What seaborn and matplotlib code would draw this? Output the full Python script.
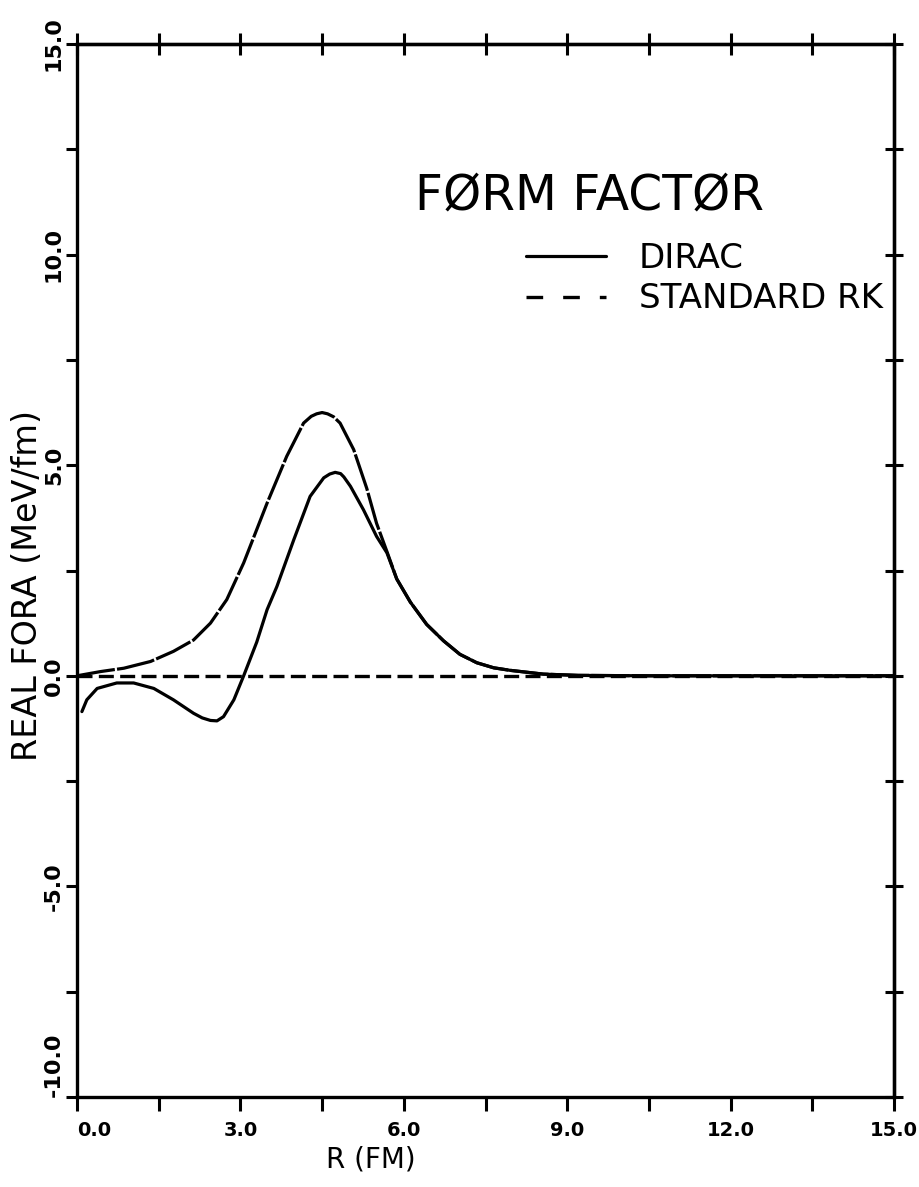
import matplotlib
matplotlib.use("Agg")
import matplotlib.pyplot as plt
import seaborn as sns
import pandas as pd
from matplotlib.lines import Line2D

# ---------------- data ----------------
r_dirac = [0.09, 0.18, 0.37, 0.73, 1.04, 1.41, 1.77, 2.14, 2.30, 2.45, 2.57,
           2.69, 2.88, 3.06, 3.30, 3.49, 3.67, 3.98, 4.28, 4.53, 4.64, 4.74,
           4.84, 4.90, 5.02, 5.26, 5.50, 5.69, 5.87, 6.12, 6.42, 6.73, 7.03,
           7.34, 7.65, 7.95, 8.56, 9.20, 10.5, 12.0, 13.5, 15.0]
dirac = [-0.85, -0.57, -0.30, -0.17, -0.17, -0.30, -0.57, -0.89, -1.00, -1.06,
         -1.07, -0.97, -0.57, 0.00, 0.80, 1.57, 2.12, 3.23, 4.26, 4.70, 4.79,
         4.83, 4.80, 4.72, 4.50, 3.94, 3.31, 2.92, 2.30, 1.75, 1.22, 0.83,
         0.51, 0.31, 0.19, 0.13, 0.04, 0.01, 0.0, 0.0, 0.0, 0.0]

r_rk = [0.0, 0.43, 0.86, 1.35, 1.77, 2.14, 2.45, 2.75, 3.06, 3.49, 3.85, 4.16,
        4.30, 4.40, 4.50, 4.60, 4.71, 4.83, 5.08, 5.32, 5.50, 5.69, 5.87, 6.12,
        6.42, 6.73, 7.03, 7.34, 7.65, 7.95, 8.56, 9.20, 10.5, 12.0, 13.5, 15.0]
rk = [0.00, 0.10, 0.18, 0.34, 0.58, 0.85, 1.25, 1.81, 2.68, 4.10, 5.21, 6.00,
      6.16, 6.22, 6.25, 6.22, 6.15, 6.00, 5.37, 4.45, 3.62, 2.95, 2.30, 1.75,
      1.22, 0.83, 0.51, 0.31, 0.19, 0.13, 0.04, 0.01, 0.0, 0.0, 0.0, 0.0]

x_ticks = [0.0, 1.5, 3.0, 4.5, 6.0, 7.5, 9.0, 10.5, 12.0, 13.5, 15.0]
x_ticklabels = ["0.0", "", "3.0", "", "6.0", "", "9.0", "", "12.0", "", "15.0"]
y_ticks = [-10.0, -7.5, -5.0, -2.5, 0.0, 2.5, 5.0, 7.5, 10.0, 12.5, 15.0]
y_ticklabels = ["-10.0", "", "-5.0", "", "0.0", "", "5.0", "", "10.0", "", "15.0"]

title_text = "FØRM FACTØR"
legend_labels = ["DIRAC", "STANDARD RK"]
x_label = "R (FM)"
y_label = "REAL FORA (MeV/fm)"

# ---------------- style ----------------
sns.set_style("ticks")
plt.rcParams["font.family"] = ["DejaVu Sans"]
plt.rcParams["text.color"] = "black"
plt.rcParams["axes.labelcolor"] = "black"
plt.rcParams["xtick.color"] = "black"
plt.rcParams["ytick.color"] = "black"

fig = plt.figure(figsize=(9.19, 11.87), dpi=100)
ax = fig.add_axes([77 / 919, 90 / 1187, 817 / 919, 1053 / 1187])

df_d = pd.DataFrame({"R": r_dirac, "F": dirac})
df_r = pd.DataFrame({"R": r_rk, "F": rk})

sns.lineplot(data=df_d, x="R", y="F", ax=ax, color="black", lw=2.3,
             estimator=None, sort=False, legend=False)
sns.lineplot(data=df_r, x="R", y="F", ax=ax, color="black", lw=2.3,
             estimator=None, sort=False, legend=False)
ax.lines[-1].set_dashes((12, 0.7))
for ln in ax.lines:
    ln.set_solid_capstyle("round")
    ln.set_solid_joinstyle("round")
    ln.set_dash_joinstyle("round")

# dashed zero reference line
ax.axhline(0.0, color="black", lw=2.4, dashes=(4.5, 1.9))

ax.set_xlim(0, 15)
ax.set_ylim(-10, 15)

for s in ax.spines.values():
    s.set_linewidth(2.4)
    s.set_color("black")
    s.set_visible(True)

ax.set_xticks(x_ticks)
ax.set_xticklabels(x_ticklabels)
ax.set_yticks(y_ticks)
ax.set_yticklabels(y_ticklabels)
ax.tick_params(axis="x", direction="out", length=10, width=2.2, pad=7,
               labelsize=14)
ax.tick_params(axis="y", direction="out", length=8, width=2.2, pad=1.5,
               labelsize=16)
for lab in ax.get_xticklabels():
    lab.set_fontweight("bold")
for lab in ax.get_yticklabels():
    lab.set_fontweight("bold")
    lab.set_rotation(90)
    lab.set_va("center")
ax.get_xticklabels()[0].set_ha("left")
ax.get_yticklabels()[0].set_va("bottom")

sec_x = ax.secondary_xaxis("top")
sec_x.set_xticks(x_ticks)
sec_x.tick_params(direction="inout", length=16, width=2.2, labeltop=False)
sec_x.spines["top"].set_linewidth(2.4)
sec_y = ax.secondary_yaxis("right")
sec_y.set_yticks(y_ticks)
sec_y.tick_params(direction="inout", length=13, width=2.2, labelright=False)
sec_y.spines["right"].set_linewidth(2.4)

ax.set_xlabel(x_label, fontsize=20)
ax.xaxis.set_label_coords(0.36, -0.046)
ax.set_ylabel(y_label, fontsize=24)
ax.yaxis.set_label_coords(-0.04, 0.486)

ax.text(6.2, 11.07, title_text, fontsize=35, va="baseline", ha="left")

handles = [Line2D([], [], color="black", lw=2.3),
           Line2D([], [], color="black", lw=2.4, dashes=(5, 6))]
leg = ax.legend(handles, legend_labels, loc="upper left",
                bbox_to_anchor=(0.55, 0.812), frameon=False, borderpad=0,
                borderaxespad=0, handlelength=2.35, handletextpad=0.95,
                labelspacing=0.22, prop={"size": 24.5})

fig.savefig("out.png", dpi=100, facecolor="white")
